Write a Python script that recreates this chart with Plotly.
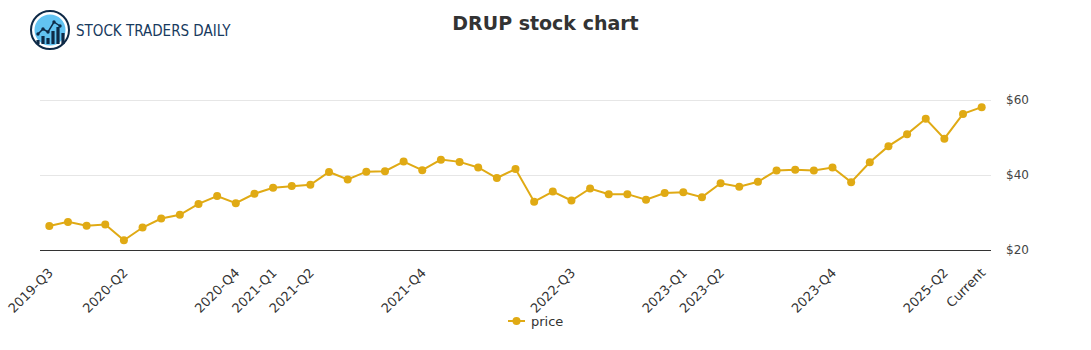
import plotly.graph_objects as go

# ---- data ----
prices = [26.4, 27.5, 26.5, 26.8, 22.6, 26.0, 28.4, 29.4, 32.3, 34.4,
          32.5, 35.0, 36.6, 37.1, 37.4, 40.8, 38.8, 40.9, 41.0, 43.6,
          41.3, 44.1, 43.5, 42.0, 39.2, 41.6, 32.9, 35.6, 33.2, 36.4,
          34.9, 34.9, 33.4, 35.2, 35.4, 34.1, 37.8, 36.9, 38.2, 41.2,
          41.4, 41.2, 42.0, 38.1, 43.4, 47.7, 50.9, 55.0, 49.7, 56.3, 58.1]
x_index = list(range(len(prices)))
tick_positions = [0, 4, 10, 12, 14, 20, 28, 34, 36, 42, 48, 50]
tick_labels = ["2019-Q3", "2020-Q2", "2020-Q4", "2021-Q1", "2021-Q2", "2021-Q4",
               "2022-Q3", "2023-Q1", "2023-Q2", "2023-Q4", "2025-Q2", "Current"]
y_ticks = [20, 40, 60]
series_name = "price"
line_color = "#E0AA14"

W, H = 1091, 350
ML, MR, MT, MB = 40, 100, 55, 100
PW, PH = W - ML - MR, H - MT - MB

def px(x):
    return (x - ML) / PW

def py(y):
    return (H - MB - y) / PH

fig = go.Figure()
fig.add_trace(go.Scatter(
    x=x_index, y=prices, mode="lines+markers", name=series_name,
    line=dict(color=line_color, width=2),
    marker=dict(color=line_color, size=8),
    showlegend=False,
))

shapes = []
# ---- legend (drawn by hand so it does not push the margins) ----
ly = 321
shapes.append(dict(type="line", xref="paper", yref="paper",
                   x0=px(508), x1=px(525), y0=py(ly), y1=py(ly),
                   line=dict(color=line_color, width=2), layer="above"))
shapes.append(dict(type="circle", xref="paper", yref="paper",
                   x0=px(512.5), x1=px(520.5), y0=py(ly + 4), y1=py(ly - 4),
                   line=dict(width=0), fillcolor=line_color, layer="above"))

# ---- logo (drawn with shapes) ----
cx, cy, r = 50, 30, 19
shapes.append(dict(type="circle", xref="paper", yref="paper",
                   x0=px(cx - r), x1=px(cx + r), y0=py(cy + r), y1=py(cy - r),
                   line=dict(color="#0E2A47", width=2), fillcolor="white", layer="above"))
r2 = 15.5
shapes.append(dict(type="circle", xref="paper", yref="paper",
                   x0=px(cx - r2), x1=px(cx + r2), y0=py(cy + r2), y1=py(cy - r2),
                   line=dict(width=0), fillcolor="#62C3F2", layer="above"))
bars = [(38, 40), (43, 36), (48, 38), (53, 31), (58, 27), (63, 33)]
for bx, top in bars:
    shapes.append(dict(type="rect", xref="paper", yref="paper",
                       x0=px(bx - 1.6), x1=px(bx + 1.6), y0=py(44), y1=py(top),
                       line=dict(width=0), fillcolor="#0E2A47", layer="above"))
pts = [(38, 34), (43, 29), (48, 32), (54, 22), (60, 26)]
path = "M " + " L ".join(f"{px(a)},{py(b)}" for a, b in pts)
shapes.append(dict(type="path", xref="paper", yref="paper", path=path,
                   line=dict(color="#0E2A47", width=1.5), layer="above"))
for a, b in pts:
    shapes.append(dict(type="circle", xref="paper", yref="paper",
                       x0=px(a - 1.7), x1=px(a + 1.7), y0=py(b + 1.7), y1=py(b - 1.7),
                       line=dict(width=0), fillcolor="#0E2A47", layer="above"))

annotations = [
    dict(text="STOCK TRADERS DAILY", xref="paper", yref="paper",
         x=px(74), y=py(31), xanchor="left", yanchor="middle", showarrow=False,
         font=dict(family="DejaVu Sans Condensed", size=15, color="#173A5E")),
    dict(text=series_name, xref="paper", yref="paper",
         x=px(529), y=py(ly), xanchor="left", yanchor="middle", showarrow=False,
         font=dict(family="DejaVu Sans", size=13, color="#333333")),
]

fig.update_layout(
    width=W, height=H,
    margin=dict(l=ML, r=MR, t=MT, b=MB),
    paper_bgcolor="white", plot_bgcolor="white",
    title=dict(text="<b>DRUP stock chart</b>", x=0.5, xref="container", xanchor="center",
               y=1 - 23 / H, yanchor="middle",
               font=dict(family="DejaVu Sans", size=19, color="#333333")),
    font=dict(family="DejaVu Sans", color="#444444"),
    xaxis=dict(range=[-0.5, 50.5], tickmode="array", tickvals=tick_positions,
               ticktext=tick_labels, tickangle=-45, showgrid=False, zeroline=False,
               showline=True, linecolor="#333333", linewidth=1, automargin=False,
               ticks="", ticklabelstandoff=9,
               tickfont=dict(family="DejaVu Sans", size=13, color="#333333")),
    yaxis=dict(range=[20, 72], side="right", tickmode="array", tickvals=y_ticks,
               ticktext=[f"${v}" for v in y_ticks], showgrid=True, gridcolor="#E6E6E6",
               zeroline=False, showline=False, ticks="", ticklabelstandoff=14,
               automargin=False,
               tickfont=dict(family="DejaVu Sans", size=12, color="#444444")),
    showlegend=False,
    shapes=shapes, annotations=annotations,
)

fig.write_html("out.html")
